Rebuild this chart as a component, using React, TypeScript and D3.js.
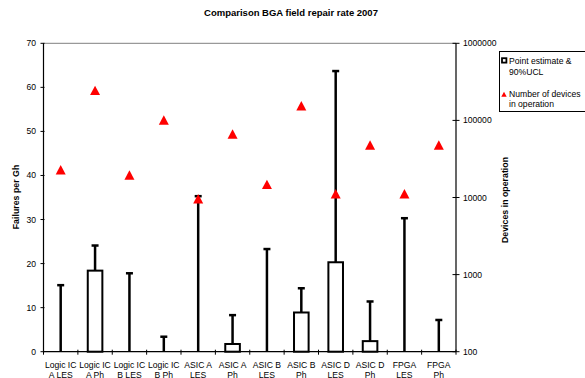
import React from 'react';
import * as d3 from 'd3';

const categories = [
  ['Logic IC', 'A LES'], ['Logic IC', 'A Ph'], ['Logic IC', 'B LES'], ['Logic IC', 'B Ph'],
  ['ASIC A', 'LES'], ['ASIC A', 'Ph'], ['ASIC B', 'LES'], ['ASIC B', 'Ph'],
  ['ASIC D', 'LES'], ['ASIC D', 'Ph'], ['FPGA', 'LES'], ['FPGA', 'Ph'],
];
const pointEstimate = [0, 18.4, 0, 0, 0, 1.75, 0, 8.9, 20.3, 2.4, 0, 0];
const ucl90 = [15.1, 24.1, 17.8, 3.4, 35.3, 8.3, 23.3, 14.4, 63.7, 11.4, 30.3, 7.2];
const devices = [22900, 245000, 19600, 101000, 9650, 66700, 14800, 155000, 11200, 48000, 11200, 48000];
const leftTicks = [0, 10, 20, 30, 40, 50, 60, 70];
const rightTicks = [100, 1000, 10000, 100000, 1000000];

const W = 585, H = 378;
const m = { left: 43.5, right: 456, top: 43.3, bottom: 351.7 };
const font = '"Liberation Sans", Arial, sans-serif';
const fs = 8.6;

export default function App() {
  const x = d3.scaleBand().domain(categories.map((c, i) => String(i))).range([m.left, m.right]);
  const yL = d3.scaleLinear().domain([0, 70]).range([m.bottom, m.top]);
  const yR = d3.scaleLog().domain([100, 1000000]).range([m.bottom, m.top]);
  const bw = 14.6;
  const cx = (i) => x(String(i)) + x.bandwidth() / 2;

  return (
    <svg width={W} height={H} style={{ position: 'absolute', left: 0, top: 0, background: '#fff' }} fontFamily={font}>
      <text x={291} y={16} textAnchor="middle" fontSize={9.5} fontWeight="bold">Comparison BGA field repair rate 2007</text>

      {/* plot frame */}
      <line x1={m.left} x2={m.right} y1={m.top} y2={m.top} stroke="#808080" strokeWidth={1} />
      <line x1={m.left} x2={m.left} y1={m.top} y2={m.bottom} stroke="#000" strokeWidth={1.2} />
      <line x1={m.right} x2={m.right} y1={m.top} y2={m.bottom} stroke="#000" strokeWidth={1.2} />
      <line x1={m.left} x2={m.right} y1={m.bottom} y2={m.bottom} stroke="#000" strokeWidth={1.2} />

      {leftTicks.map(t => (
        <g key={'l' + t}>
          <line x1={m.left - 3} x2={m.left + 1} y1={yL(t)} y2={yL(t)} stroke="#000" />
          <text x={36} y={yL(t) + 3} textAnchor="end" fontSize={fs}>{t}</text>
        </g>
      ))}
      {rightTicks.map(t => (
        <g key={'r' + t}>
          <line x1={m.right - 3.5} x2={m.right + 3.5} y1={yR(t)} y2={yR(t)} stroke="#000" />
          <text x={463} y={yR(t) + 3} fontSize={fs}>{t}</text>
        </g>
      ))}
      {categories.map((c, i) => (
        <line key={'t' + i} x1={x(String(i))} x2={x(String(i))} y1={m.bottom - 2} y2={m.bottom + 3} stroke="#000" />
      ))}
      <line x1={m.right} x2={m.right} y1={m.bottom - 2} y2={m.bottom + 3} stroke="#000" />

      {categories.map((c, i) => (
        <text key={'c' + i} x={cx(i)} textAnchor="middle" fontSize={fs}>
          <tspan x={cx(i)} y={367.5}>{c[0]}</tspan>
          <tspan x={cx(i)} y={377.5}>{c[1]}</tspan>
        </text>
      ))}

      <text transform={`translate(19,197) rotate(-90)`} textAnchor="middle" fontSize={8.8} fontWeight="bold">Failures per Gh</text>
      <text transform={`translate(508,200) rotate(-90)`} textAnchor="middle" fontSize={8.8} fontWeight="bold">Devices in operation</text>

      {/* point estimates and UCL */}
      {categories.map((c, i) => (
        <g key={'b' + i}>
          <line x1={cx(i)} x2={cx(i)} y1={yL(pointEstimate[i])} y2={yL(ucl90[i])} stroke="#000" strokeWidth={2.5} />
          <line x1={cx(i) - 3.5} x2={cx(i) + 3.5} y1={yL(ucl90[i])} y2={yL(ucl90[i])} stroke="#000" strokeWidth={2.5} />
          {pointEstimate[i] > 0 && (
            <rect x={cx(i) - bw / 2} y={yL(pointEstimate[i])} width={bw} height={yL(0) - yL(pointEstimate[i])}
              fill="#fff" stroke="#000" strokeWidth={2} />
          )}
        </g>
      ))}

      {/* devices in operation */}
      {devices.map((d, i) => {
        const px = cx(i), py = yR(d);
        return <path key={'d' + i} d={`M${px - 5},${py + 4.7}L${px},${py - 4.7}L${px + 5},${py + 4.7}Z`} fill="#ff0000" />;
      })}

      {/* legend */}
      <rect x={499.5} y={51.5} width={100} height={60} fill="#fff" stroke="#000" strokeWidth={1} />
      <rect x={502} y={58.2} width={4.4} height={4.4} fill="#fff" stroke="#000" strokeWidth={1.8} />
      <text x={509} y={64} fontSize={fs}>Point estimate &amp;</text>
      <text x={509} y={75} fontSize={fs}>90%UCL</text>
      <path d="M501.3,96.7L504,91.7L506.7,96.7Z" fill="#ff0000" />
      <text x={509} y={97} fontSize={fs}>Number of devices</text>
      <text x={509} y={107} fontSize={fs}>in operation</text>
    </svg>
  );
}
